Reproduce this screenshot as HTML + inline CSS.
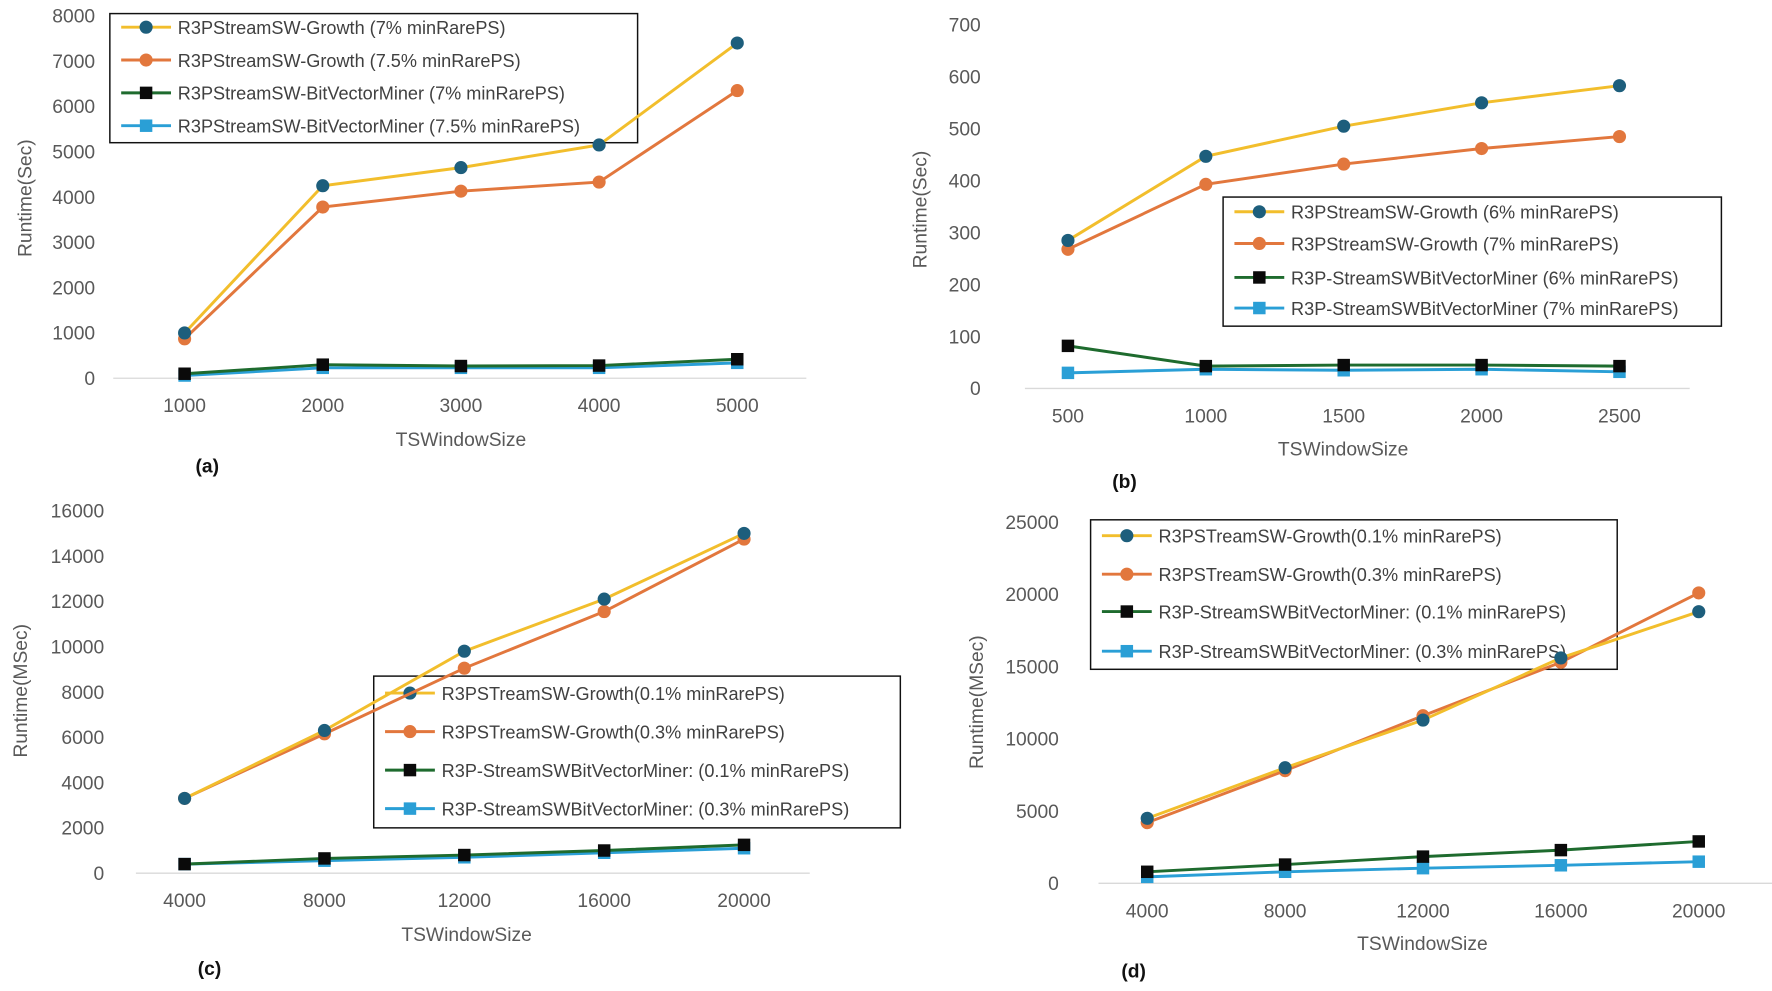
<!DOCTYPE html>
<html><head><meta charset="utf-8"><style>
html,body{margin:0;padding:0;background:#fff;}
svg{display:block;font-family:"Liberation Sans Narrow","Liberation Sans",sans-serif;}
</style></head><body>
<svg id="chart" width="1772" height="991" viewBox="0 0 1772 991" xmlns="http://www.w3.org/2000/svg">
<g id="root" transform="scale(1.1325)"></g>
</svg>
<script>
// ---- data ----
const catsA = [1000, 2000, 3000, 4000, 5000];
const ticksA = [0, 1000, 2000, 3000, 4000, 5000, 6000, 7000, 8000];
const aGrowth7 = [1000, 4250, 4650, 5150, 7400];
const aGrowth75 = [870, 3780, 4130, 4330, 6350];
const aBit7 = [100, 300, 270, 280, 420];
const aBit75 = [60, 230, 230, 230, 340];

const catsB = [500, 1000, 1500, 2000, 2500];
const ticksB = [0, 100, 200, 300, 400, 500, 600, 700];
const bGrowth6 = [285, 447, 505, 550, 583];
const bGrowth7 = [268, 393, 432, 462, 485];
const bBit6 = [82, 43, 45, 45, 43];
const bBit7 = [30, 37, 35, 37, 32];

const catsC = [4000, 8000, 12000, 16000, 20000];
const ticksC = [0, 2000, 4000, 6000, 8000, 10000, 12000, 14000, 16000];
const cGrowth01 = [3300, 6300, 9800, 12100, 15000];
const cGrowth03 = [3300, 6150, 9050, 11550, 14750];
const cBit01 = [400, 650, 800, 1000, 1250];
const cBit03 = [400, 550, 700, 900, 1100];

const catsD = [4000, 8000, 12000, 16000, 20000];
const ticksD = [0, 5000, 10000, 15000, 20000, 25000];
const dGrowth01 = [4500, 8000, 11300, 15600, 18800];
const dGrowth03 = [4200, 7800, 11600, 15300, 20100];
const dBit01 = [800, 1300, 1850, 2300, 2900];
const dBit03 = [450, 800, 1050, 1250, 1500];

const labelsA = ["R3PStreamSW-Growth (7% minRarePS)","R3PStreamSW-Growth (7.5% minRarePS)","R3PStreamSW-BitVectorMiner (7% minRarePS)","R3PStreamSW-BitVectorMiner (7.5% minRarePS)"];
const labelsB = ["R3PStreamSW-Growth (6% minRarePS)","R3PStreamSW-Growth (7% minRarePS)","R3P-StreamSWBitVectorMiner (6% minRarePS)","R3P-StreamSWBitVectorMiner (7% minRarePS)"];
const labelsC = ["R3PSTreamSW-Growth(0.1% minRarePS)","R3PSTreamSW-Growth(0.3% minRarePS)","R3P-StreamSWBitVectorMiner: (0.1% minRarePS)","R3P-StreamSWBitVectorMiner: (0.3% minRarePS)"];
const labelsD = labelsC;

const NS = "http://www.w3.org/2000/svg";
const root = document.getElementById('root');
const STY = [
  {line:"#F2BE2C", mk:"#1D5E7C", shape:"circle"},
  {line:"#E2773D", mk:"#E2773D", shape:"circle"},
  {line:"#1E6B2E", mk:"#0a0a0a", shape:"square"},
  {line:"#2A9FD6", mk:"#2A9FD6", shape:"square"}
];
function mk(tag, attrs, parent){
  const e = document.createElementNS(NS, tag);
  for (const k in attrs) e.setAttribute(k, attrs[k]);
  (parent||root).appendChild(e);
  return e;
}
function marker(g, shape, x, y, color, name){
  let e;
  if (shape === "circle") e = mk('circle', {cx:x, cy:y, r:5.8, fill:color}, g);
  else e = mk('rect', {x:x-5.5, y:y-5.5, width:11, height:11, fill:color}, g);
  
  
}
function panel(p){
  const g = mk('g', {});
  
  
  const ymax = p.ticks[p.ticks.length-1];
  const sy = v => p.y0 - (v/ymax)*(p.y0 - p.yTop);
  const sx = i => p.x0 + i*(p.x1 - p.x0)/(p.cats.length-1);
  // legend (drawn first, lines pass over it)
  const lg = mk('g', {}, g);
  
  
  const bx = mk('rect', {x:p.lg[0], y:p.lg[1], width:p.lg[2]-p.lg[0], height:p.lg[3]-p.lg[1], fill:"#fff", stroke:"#111", "stroke-width":1.3}, lg);
  
  
  p.labels.forEach((t,i) => {
    const y = p.lgY[i], st = STY[i], x = p.lg[0] + 10;
    const ln = mk('line', {x1:x, x2:x+44, y1:y, y2:y, stroke:st.line, "stroke-width":2.6}, lg);
    
    
    marker(lg, st.shape, x+22, y, st.mk, 'legend-marker');
    const tx = mk('text', {x:x+50, y:y+6, "font-size":16, fill:"#404040"}, lg);
    tx.textContent = t;
    
    
  });
  // axis line
  const ax = mk('line', {x1:p.axL, x2:p.axR, y1:p.y0, y2:p.y0, stroke:"#d9d9d9", "stroke-width":1.2}, g);
  
  
  p.ticks.forEach(t => {
    const e = mk('text', {x:p.tickX, y:sy(t)+6, "text-anchor":"end", "font-size":17, fill:"#595959"}, g);
    e.textContent = t;
    
    
  });
  p.cats.forEach((c,i) => {
    const e = mk('text', {x:sx(i), y:p.y0+30, "text-anchor":"middle", "font-size":17, fill:"#595959"}, g);
    e.textContent = c;
    
    
  });
  const yt = mk('text', {x:0, y:0, "text-anchor":"middle", "font-size":17, fill:"#595959", transform:`translate(${p.ytX},${p.ytY}) rotate(-90)`, "font-family":"Liberation Sans, sans-serif"}, g);
  yt.textContent = p.ytitle;
  
  
  const xt = mk('text', {x:p.xtX, y:p.xtY, "text-anchor":"middle", "font-size":17, fill:"#595959"}, g);
  xt.textContent = "TSWindowSize";
  
  
  const lb = mk('text', {x:p.lbX, y:p.lbY, "text-anchor":"middle", "font-size":17, "font-weight":"bold", fill:"#111", "font-family":"Liberation Sans, sans-serif"}, g);
  lb.textContent = "(" + p.id + ")";
  
  
  // series
  [3,2,1,0].forEach(si => {
    const vals = p.series[si], st = STY[si];
    const pts = vals.map((v,i) => sx(i)+","+sy(v)).join(" ");
    const pl = mk('polyline', {points:pts, fill:"none", stroke:st.line, "stroke-width":2.6}, g);
    
    
    vals.forEach((v,i) => marker(g, st.shape, sx(i), sy(v), st.mk, 'point-s' + (si+1) + '-' + (i+1)));
  });
}
panel({id:"a", cats:catsA, ticks:ticksA, series:[aGrowth7,aGrowth75,aBit7,aBit75], labels:labelsA,
  x0:163, x1:651, y0:334, yTop:14, axL:100, axR:712, tickX:84, ytitle:"Runtime(Sec)", ytX:28, ytY:175,
  xtX:407, xtY:394, lbX:183, lbY:417, lg:[97,12,563,126], lgY:[24,53,82,111]});
panel({id:"b", cats:catsB, ticks:ticksB, series:[bGrowth6,bGrowth7,bBit6,bBit7], labels:labelsB,
  x0:943, x1:1430, y0:343, yTop:22, axL:905, axR:1492, tickX:866, ytitle:"Runtime(Sec)", ytX:818, ytY:185,
  xtX:1186, xtY:402, lbX:993, lbY:431, lg:[1080,174,1520,288], lgY:[187,215,245,272]});
panel({id:"c", cats:catsC, ticks:ticksC, series:[cGrowth01,cGrowth03,cBit01,cBit03], labels:labelsC,
  x0:163, x1:657, y0:771, yTop:451, axL:120, axR:715, tickX:92, ytitle:"Runtime(MSec)", ytX:24, ytY:610,
  xtX:412, xtY:831, lbX:185, lbY:861, lg:[330,597,795,731], lgY:[612,646,680,714]});
panel({id:"d", cats:catsD, ticks:ticksD, series:[dGrowth01,dGrowth03,dBit01,dBit03], labels:labelsD,
  x0:1013, x1:1500, y0:780, yTop:461, axL:970, axR:1565, tickX:935, ytitle:"Runtime(MSec)", ytX:868, ytY:620,
  xtX:1256, xtY:839, lbX:1001, lbY:863, lg:[963,459,1428,591], lgY:[473,507,540,575]});
</script>
</body></html>
